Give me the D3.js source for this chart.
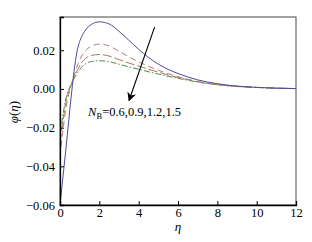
<!DOCTYPE html>
<html><head><meta charset="utf-8">
<script src="https://cdn.jsdelivr.net/npm/d3@7"></script>
<style>body{margin:0;background:#fff}svg{display:block}</style>
</head><body><svg id="c" width="312" height="242"></svg>
<script>
const eta = [0,0.3,0.6,0.75,0.9,1.1,1.3,1.6,2.0,2.5,3.0,3.5,4.0,4.5,5.0,5.5,6.0,7.0,8.0,9.0,10,11,12];
const nb06 = [-0.06,-0.031,-0.001,0.012,0.021,0.027,0.0305,0.0334,0.0347,0.0336,0.0298,0.0252,0.0205,0.0163,0.0128,0.0101,0.0080,0.0047,0.0027,0.0015,0.0008,0.0004,0.0002];
const nb09 = [-0.035,-0.010,0.003,0.008,0.0125,0.017,0.0198,0.0222,0.0232,0.0222,0.0195,0.0166,0.0140,0.0117,0.0097,0.0079,0.0063,0.0039,0.0023,0.0013,0.0008,0.0004,0.0002];
const nb12 = [-0.028,-0.007,0.003,0.007,0.010,0.0135,0.0158,0.0173,0.0178,0.0170,0.0152,0.0134,0.0118,0.0102,0.0087,0.0072,0.0059,0.0037,0.0022,0.0013,0.0008,0.0004,0.0002];
const nb15 = [-0.024,-0.005,0.003,0.006,0.0085,0.0112,0.0130,0.0142,0.0146,0.0141,0.0128,0.0114,0.0102,0.0089,0.0077,0.0065,0.0055,0.0036,0.0022,0.0013,0.0008,0.0004,0.0002];
const xTicks = [0,2,4,6,8,10,12];
const yTicks = [-0.06,-0.04,-0.02,0.00,0.02];
const seriesNames = ["0.6","0.9","1.2","1.5"];

const FONT = "'Liberation Serif','Times New Roman','DejaVu Serif',serif";
const svg = d3.select("#c");
const L=60,R=296,T=17,B=205;
const x = d3.scaleLinear().domain([0,12]).range([L,R]);
const y = d3.scaleLinear().domain([-0.06,0.0372]).range([B,T]);

const defs = svg.append("defs");
defs.append("clipPath").attr("id","clip").append("rect").attr("x",L).attr("y",T).attr("width",R-L).attr("height",B-T);
defs.append("marker").attr("id","arr").attr("viewBox","0 0 10 10").attr("refX",9).attr("refY",5)
  .attr("markerWidth",9).attr("markerHeight",9).attr("orient","auto").attr("markerUnits","userSpaceOnUse")
  .append("path").attr("d","M0,0 L10,5 L0,10 L3,5 Z").attr("fill","#000");

const styles = [
  {c:"#4b4b9e", d:null},
  {c:"#b07a78", d:"6,4"},
  {c:"#a57a55", d:"9,3"},
  {c:"#4f8a4f", d:"6,2,1.5,2"}
];
const data = [nb06,nb09,nb12,nb15];
const line = d3.line().x((d,i)=>x(eta[i])).y(d=>y(d)).curve(d3.curveMonotoneX);
const g = svg.append("g").attr("clip-path","url(#clip)");
[3,2,1,0].forEach(k=>{
  const st = styles[k];
  g.append("path").attr("d",line(data[k])).attr("fill","none").attr("stroke",st.c)
   .attr("stroke-width",1).attr("stroke-dasharray",st.d);
});

svg.append("rect").attr("x",L).attr("y",T).attr("width",R-L).attr("height",B-T)
  .attr("fill","none").attr("stroke","#666").attr("stroke-width",1.2);

const xa = svg.append("g").attr("transform",`translate(0,${B})`)
  .call(d3.axisBottom(x).tickValues(xTicks).tickSize(-4).tickPadding(3).tickFormat(d3.format("d")));
const ya = svg.append("g").attr("transform",`translate(${L},0)`)
  .call(d3.axisLeft(y).tickValues(yTicks).tickSize(-4).tickPadding(5).tickFormat(d=>d3.format(".2f")(d).replace("-","\u2212")));
[xa,ya].forEach(a=>{
  a.attr("font-family",null);
  a.select(".domain").attr("stroke","#000").attr("stroke-width",1.3);
  a.selectAll(".tick line").attr("stroke","#000").attr("stroke-width",1);
  a.selectAll("text").attr("fill","#000").style("font-family",FONT).style("font-size","12.5px");
});

svg.append("text").attr("x",(L+R)/2).attr("y",231).attr("text-anchor","middle")
  .style("font-family",FONT).style("font-size","13px").style("font-style","italic").text("η");
const yl = svg.append("text").attr("transform","translate(18,112) rotate(-90)").attr("text-anchor","middle")
  .style("font-family",FONT).style("font-size","13px");
yl.append("tspan").style("font-style","italic").text("φ");
yl.append("tspan").text("(");
yl.append("tspan").style("font-style","italic").text("η");
yl.append("tspan").text(")");

svg.append("line").attr("x1",x(4.81)).attr("y1",y(0.032)).attr("x2",x(3.51)).attr("y2",y(-0.006))
  .attr("stroke","#000").attr("stroke-width",1.1).attr("marker-end","url(#arr)");
const t = svg.append("text").attr("x",x(1.43)).attr("y",y(-0.0142))
  .style("font-family",FONT).style("font-size","12.5px");
t.append("tspan").style("font-style","italic").text("N");
t.append("tspan").style("font-size","8.5px").attr("dy",2.5).text("B");
t.append("tspan").attr("dy",-2.5).text("=" + seriesNames.join(","));
</script></body></html>
